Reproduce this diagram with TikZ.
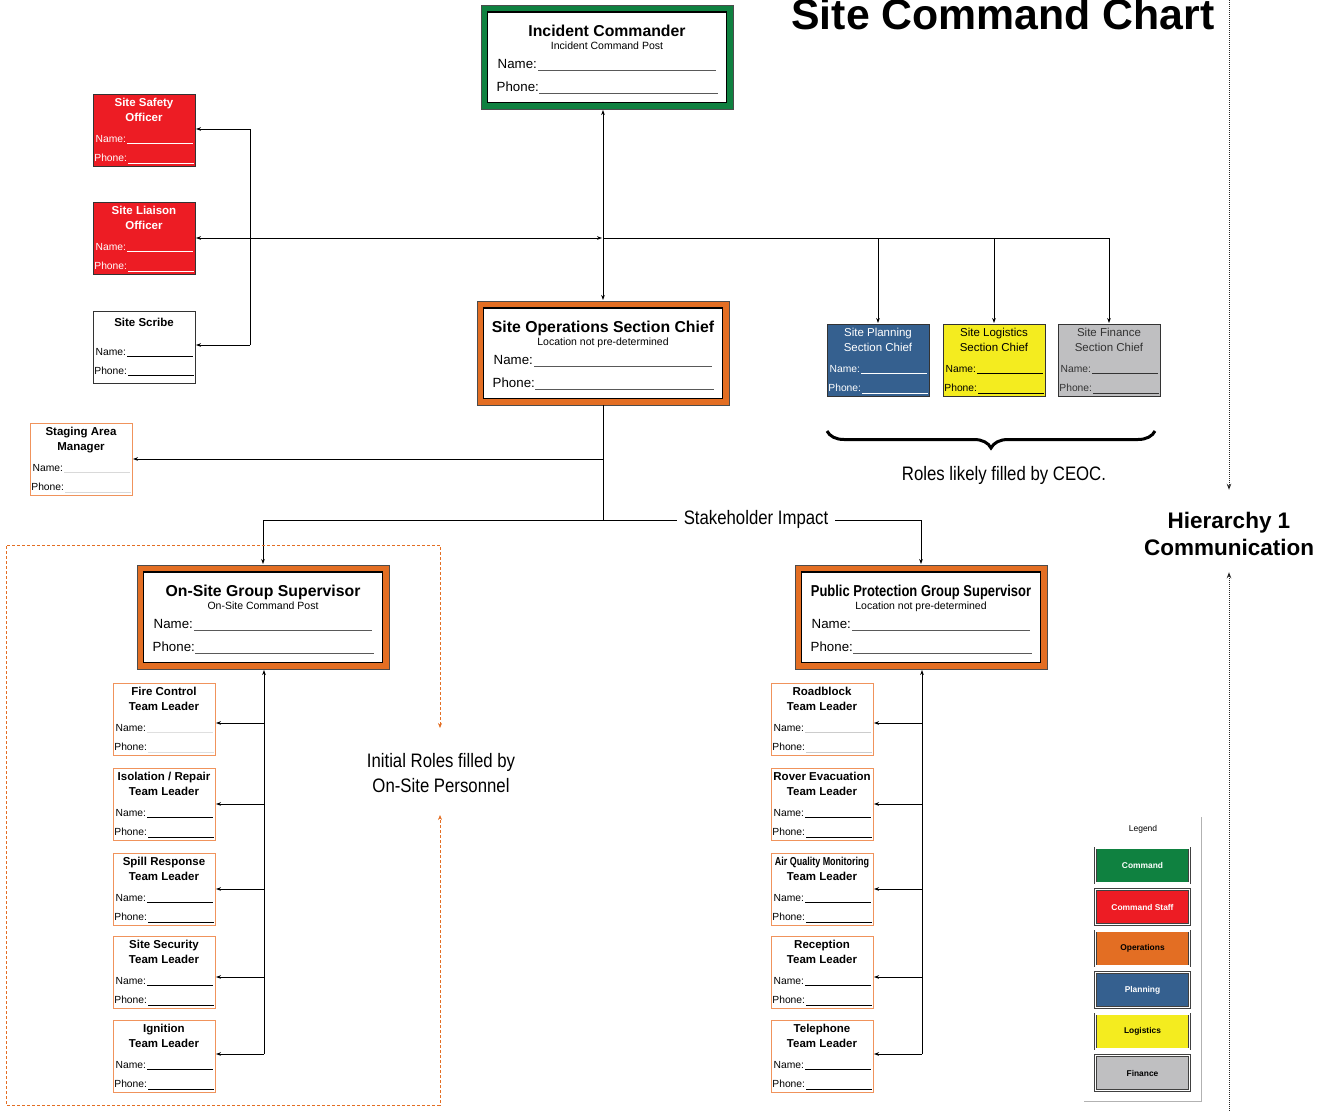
\documentclass[tikz,border=0pt]{standalone}
\usepackage{graphicx}
\usepackage{fontspec}
\setmainfont{Liberation Sans}
\newfontfamily\narrowfont[FakeStretch=0.86]{Liberation Sans}
\usetikzlibrary{arrows.meta,calc,positioning,decorations.pathreplacing}
\definecolor{cmdgreen}{HTML}{0F8140}
\definecolor{staffred}{HTML}{ED1C24}
\definecolor{opsorange}{HTML}{E36E23}
\definecolor{planblue}{HTML}{35608F}
\definecolor{logyellow}{HTML}{F4EC1F}
\definecolor{fingray}{HTML}{BFBFC1}
\definecolor{edgeorange}{HTML}{F0935C}
\definecolor{inkgray}{HTML}{333333}

% large card: name, left, top, colour, title, subtitle
\newcommand{\bigcard}[6]{%
  \node[bigcard,fill=#4] (#1) at (#2,#3) {};
  \draw[fill=white,line width=1.3pt] ($(#1.north west)+(6.5,7)$) rectangle ($(#1.south east)+(-6.5,-6.5)$);
  \node[bigtitle] at ($(#1.north)+(0,31)$) {#5};
  \node[bigsub] at ($(#1.north)+(0,44)$) {#6};
  \node[bigfield] at ($(#1.north west)+(16.5,63)$) {Name:};
  \node[bigfield] at ($(#1.north west)+(15.5,86.5)$) {Phone:};
  \draw[bigline] ($(#1.north west)+(57,65.5)$) -- ($(#1.north east)+(-17,65.5)$);
  \draw[bigline] ($(#1.north west)+(58,88)$) -- ($(#1.north east)+(-15.5,88)$);
}
% small card: name, left, top, style, title 1, title 2, ink, line colour
\newcommand{\rolecard}[8]{%
  \node[#4] (#1) at (#2,#3) {};
  \node[cardtitle,text=#7] at ($(#1.north)+(0,12.6)$) {#5};
  \node[cardtitle,text=#7] at ($(#1.north)+(0,27.6)$) {#6};
  \node[fieldtext,text=#7] at ($(#1.north west)+(2.5,48)$) {Name:};
  \node[fieldtext,text=#7] at ($(#1.north west)+(1.2,67.5)$) {Phone:};
  \draw[fieldline,draw=#8] ($(#1.north west)+(34,49.5)$) -- ($(#1.north east)+(-2,49.5)$);
  \draw[fieldline,draw=#8] ($(#1.north west)+(35,69)$) -- ($(#1.north east)+(-1,69)$);
}

\begin{document}
\begin{tikzpicture}[x=1pt,y=-1pt,
  bigcard/.style={draw=gray!60!black,line width=0.5pt,anchor=north west,minimum width=252,minimum height=104,inner sep=0,outer sep=0},
  bigtitle/.style={anchor=base,inner sep=0,font=\bfseries\fontsize{15.8}{18}\selectfont},
  bigsub/.style={anchor=base,inner sep=0,font=\fontsize{10.5}{12}\selectfont},
  bigfield/.style={anchor=base west,inner sep=0,font=\fontsize{13.3}{15}\selectfont},
  bigline/.style={gray!70!black,line width=0.8pt},
  smallcard/.style={anchor=north west,minimum width=102,minimum height=72,inner sep=0,outer sep=0,line width=0.9pt},
  staffcard/.style={smallcard,draw=gray!40!black,fill=staffred},
  teamcard/.style={smallcard,draw=edgeorange,fill=white,line width=1pt},
  cardtitle/.style={anchor=base,inner sep=0,font=\bfseries\fontsize{11.5}{13}\selectfont},
  fieldtext/.style={anchor=base west,inner sep=0,font=\fontsize{10.3}{12}\selectfont},
  fieldline/.style={line width=0.7pt},
  narrow/.style={inner sep=0,font=\narrowfont\fontsize{19.5}{24.5}\selectfont},
  link/.style={line width=0.7pt,black},
  arr/.style={link,-{Stealth[length=5pt,width=3.6pt]},shorten >=1pt},
  biarr/.style={link,{Stealth[length=5pt,width=3.6pt]}-{Stealth[length=5pt,width=3.6pt]},shorten >=1pt,shorten <=1pt},
  frame/.style={opsorange,line width=0.7pt,dash pattern=on 3pt off 2pt,{Stealth[length=5pt,width=4pt]}-{Stealth[length=5pt,width=4pt]}},
  dotarr/.style={gray!30!black,line width=1pt,dash pattern=on 1pt off 1pt,-{Stealth[length=6pt,width=4.5pt]}},
  legendbox/.style={minimum width=94,minimum height=35,inner sep=0,draw=gray!50!black,double=white,double distance=1.2pt,line width=0.7pt,font=\bfseries\fontsize{8.4}{10}\selectfont}]
  \useasboundingbox (0,0) rectangle (1323,1111);

  \node[anchor=base,inner sep=0,font=\bfseries\fontsize{42.8}{44}\selectfont] (title) at (1003,29) {Site Command Chart};

  % command and operations
  \bigcard{ic}{481}{5}{cmdgreen}{Incident Commander}{Incident Command Post}
  \bigcard{ops}{477}{301}{opsorange}{Site Operations Section Chief}{Location not pre-determined}
  \bigcard{osg}{137}{565}{opsorange}{On-Site Group Supervisor}{On-Site Command Post}
  \bigcard{ppg}{795}{565}{opsorange}{\scalebox{0.82}[1]{Public Protection Group Supervisor}}{Location not pre-determined}

  % command staff
  \rolecard{sso}{93}{94}{staffcard}{Site Safety}{Officer}{white}{white}
  \rolecard{slo}{93}{202}{staffcard}{Site Liaison}{Officer}{white}{white}
  \node[smallcard,draw=gray!40!black,fill=white] (scr) at (93,311) {};
  \node[cardtitle] at ($(scr.north)+(0,15)$) {Site Scribe};
  \node[fieldtext] at ($(scr.north west)+(2.5,44.3)$) {Name:};
  \node[fieldtext] at ($(scr.north west)+(1.2,63.5)$) {Phone:};
  \draw[fieldline] ($(scr.north west)+(34,45)$) -- ($(scr.north east)+(-2,45)$);
  \draw[fieldline] ($(scr.north west)+(35,64)$) -- ($(scr.north east)+(-1,64)$);

  % general staff
  \rolecard{psc}{827}{324}{smallcard,draw=gray!40!black,fill=planblue}{\mdseries Site Planning}{\mdseries Section Chief}{white}{white}
  \rolecard{lsc}{943}{324}{smallcard,draw=gray!40!black,fill=logyellow}{\mdseries Site Logistics}{\mdseries Section Chief}{black}{black}
  \rolecard{fsc}{1058}{324}{smallcard,draw=gray!40!black,fill=fingray}{\mdseries Site Finance}{\mdseries Section Chief}{inkgray}{inkgray}
  \rolecard{sam}{30}{423}{teamcard}{Staging Area}{Manager}{black}{gray!30}

  % links from the commander
  \draw[biarr] (ic.south -| ops.north) -- (ops.north);
  \coordinate (hub) at (603,238);
  \draw[biarr] (hub -| slo.east) -- (hub);
  \draw[link] (hub) -- (hub -| fsc.north);
  \foreach \s in {psc,lsc,fsc}
    \draw[arr] (hub -| \s.north) -- (\s.north);
  \coordinate (brt) at (250,129);
  \coordinate (brb) at (250,345);
  \draw[arr] (brt) -- (brt -| sso.east);
  \draw[link] (brt) -- (brb);
  \draw[arr] (brb) -- (brb -| scr.east);

  \draw[line width=3pt,decorate,decoration={brace,mirror,amplitude=17pt}]
    ($(psc.south west)+(0,35)$) -- ($(fsc.south east)+(-5,35)$);
  \node[narrow] (ceoc) at (1004,475) {Roles likely filled by CEOC.};

  % operations branches
  \coordinate (stk) at (603,520);
  \draw[link] (ops.south) -- (stk);
  \draw[arr] (ops.south |- sam.east) -- (sam.east);
  \draw[link] (stk -| osg.north) -- (stk -| ppg.north);
  \draw[arr] (stk -| osg.north) -- (osg.north);
  \draw[arr] (stk -| ppg.north) -- (ppg.north);
  \node[narrow,fill=white,inner xsep=7pt,inner ysep=2pt] (stake) at (756,519) {Stakeholder Impact};

  % on-site teams
  \foreach \nm/\ty/\ta/\lc/\ay in {fc/683/Fire Control/gray!25/723, ir/768/{Isolation / Repair}/black/804,
      sr/853/Spill Response/black/889, ss/936/Site Security/black/977, ig/1020/Ignition/black/1054} {
    \rolecard{\nm}{113}{\ty}{teamcard}{\ta}{Team Leader}{black}{\lc}
    \coordinate (l\nm) at (264,\ay);
    \draw[arr] (l\nm) -- (l\nm -| \nm.east);
  }
  \draw[arr] (lig) -- (lig |- osg.south);

  % public protection teams
  \foreach \nm/\ty/\ta/\lc/\ay in {rb/683/Roadblock/gray!40/723, re/768/Rover Evacuation/black/804,
      aq/853/{\scalebox{0.78}[1]{Air Quality Monitoring}}/black/889, rc/936/Reception/black/977, tp/1020/Telephone/black/1054} {
    \rolecard{\nm}{771}{\ty}{teamcard}{\ta}{Team Leader}{black}{\lc}
    \coordinate (r\nm) at (922,\ay);
    \draw[arr] (r\nm) -- (r\nm -| \nm.east);
  }
  \draw[arr] (rtp) -- (rtp |- ppg.south);

  % on-site personnel frame
  \coordinate (fa) at (440,728);
  \coordinate (fb) at (440,815);
  \draw[frame] (fa) -- (440,545) -- (6,545) -- (6,1105) -- (440,1105) -- (fb);
  \node[narrow,align=center] (init) at (441,773) {Initial Roles filled by\\On-Site Personnel};

  % hierarchy
  \node[inner sep=0,align=center,font=\bfseries\fontsize{22.5}{27.5}\selectfont] (hier) at (1229,534) {Hierarchy 1\\Communication};
  \coordinate (htop) at (1229,0);
  \coordinate (hbot) at (1229,1111);
  \draw[dotarr,shorten >=22pt] (htop) -- (hier.north);
  \draw[dotarr,shorten >=16pt] (hbot) -- (hier.south);

  % legend
  \node[font=\fontsize{8.5}{10}\selectfont] (legend) at (1143,829) {Legend};
  \foreach \lab/\col/\tc [count=\i from 0] in {Command/cmdgreen/white, Command Staff/staffred/white,
      Operations/opsorange/black, Planning/planblue/white, Logistics/logyellow/black, Finance/fingray/black}
    \node[legendbox,fill=\col,text=\tc] (lg\i) at (1142.5,{865.5+41.5*\i}) {\lab};
  \draw[gray!60,line width=0.9pt] (1201,817) -- (1201,1101) -- (1084,1101);
\end{tikzpicture}
\end{document}
